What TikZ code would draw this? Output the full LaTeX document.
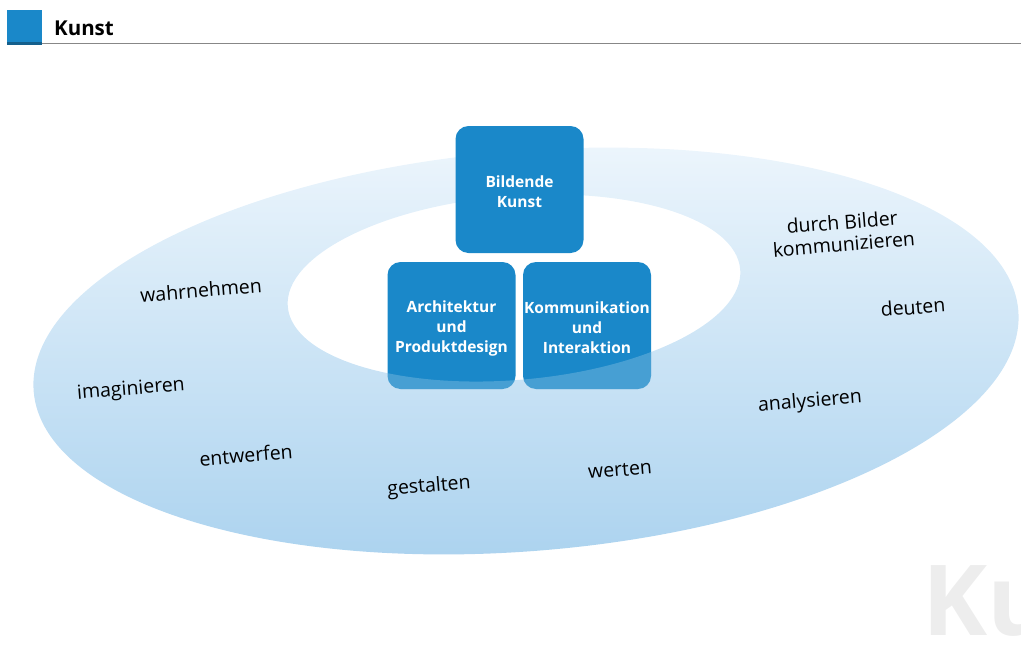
\documentclass[tikz,border=0pt]{standalone}
\usepackage{fontspec}
\setmainfont{Open Sans}
\definecolor{boxblue}{RGB}{26,136,201}
\definecolor{headblue}{RGB}{26,136,201}
\definecolor{headdark}{RGB}{20,95,140}
\definecolor{ringtop}{RGB}{236,245,252}
\definecolor{ringbot}{RGB}{172,211,239}
\definecolor{rulegray}{RGB}{135,135,135}
% ring path, to be used inside a scope rotated by 4.7 degrees around (526,-351)
\newcommand\myring{(526,-351) ellipse [x radius=494, y radius=200] (519.2,-287.2) ellipse [x radius=227, y radius=92]}
\begin{document}
\begin{tikzpicture}[x=1pt,y=1pt,
  box/.style={fill=boxblue, rounded corners=13pt, minimum width=128pt, minimum height=127pt, inner sep=0pt},
  boxtext/.style={inner sep=0pt, text=white, font=\fontsize{15.5}{20}\selectfont\bfseries, align=center},
  lbl/.style={font=\fontsize{19.5}{22}\selectfont, rotate=4.7, text=black, inner sep=0pt, align=center},
  tilt/.style={rotate around={4.7:(526,-351)}}]
\useasboundingbox (0,0) rectangle (1021,-651);
\clip (0,0) rectangle (1021,-651);
% header
\fill[headblue] (7,-10) rectangle (42,-43);
\fill[headdark] (7,-42) rectangle (42,-44.5);
\draw[rulegray, line width=1.3pt] (42,-43.8) -- (1021,-43.8);
\node[anchor=base west, inner sep=0pt, font=\fontsize{20.5}{22}\selectfont\bfseries] (title) at (54,-35) {Kunst};
% watermark
\node[anchor=base west, inner sep=0pt, font=\fontsize{98}{98}\selectfont\bfseries, text=black!7] (wm) at (922,-635) {Ku};
% ring
\begin{scope}[tilt, even odd rule]
  \clip \myring;
  \shade[rotate around={-4.7:(526,-351)}, top color=ringtop, bottom color=ringbot] (20,-145) rectangle (1030,-557);
\end{scope}
% boxes
\node[box] (bk) at (519.5,-189.5) {};
\node[box] (ap) at (451.5,-325.5) {};
\node[box] (ki) at (587,-325.5) {};
% ring in front of the lower boxes
\begin{scope}
  \clip[rounded corners=13pt] (ap.north west) rectangle (ap.south east) (ki.north west) rectangle (ki.south east);
  \fill[tilt, even odd rule, white, opacity=0.2] \myring;
\end{scope}
% box texts
\node[boxtext] (bkt) at ([yshift=-2.5pt]bk.center) {Bildende\\Kunst};
\node[boxtext] (apt) at ([yshift=-2.5pt]ap.center) {Architektur\\und\\Produktdesign};
\node[boxtext] (kit) at ([yshift=-2.5pt]ki.center) {Kommunikation\\und\\Interaktion};
% labels
\node[lbl] (l1) at (201,-290) {wahrnehmen};
\node[lbl] (l2) at (131,-390) {imaginieren};
\node[lbl] (l3) at (246,-455) {entwerfen};
\node[lbl] (l4) at (429,-487) {gestalten};
\node[lbl] (l5) at (620,-470) {werten};
\node[lbl] (l6) at (810,-402) {analysieren};
\node[lbl] (l7) at (913,-307) {deuten};
\node[lbl] (l8) at (843,-233) {durch Bilder\\kommunizieren};
\end{tikzpicture}
\end{document}
